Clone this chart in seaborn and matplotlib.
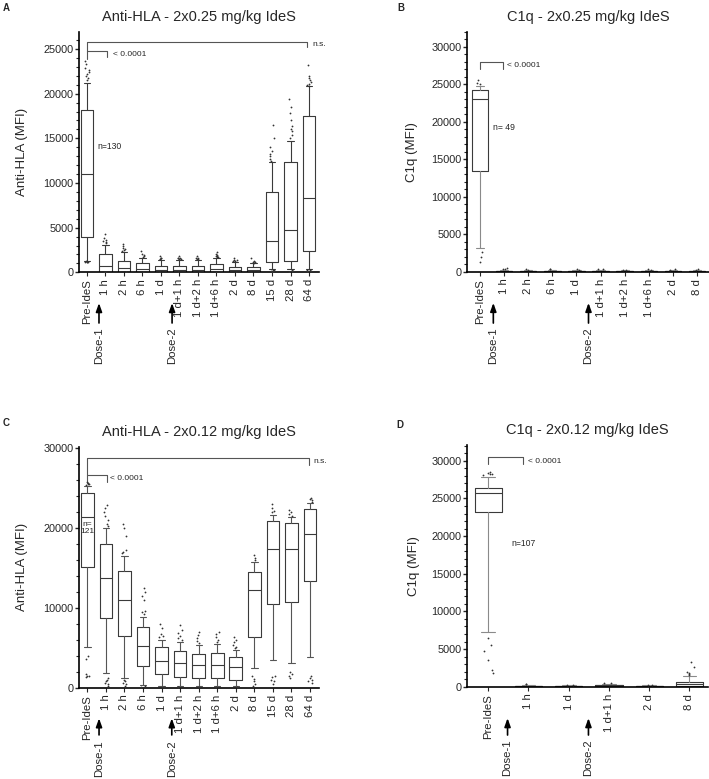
import numpy as np
import pandas as pd
import matplotlib
matplotlib.use("Agg")
import matplotlib.pyplot as plt
import matplotlib.transforms as mtransforms
from matplotlib.ticker import MultipleLocator
import seaborn as sns

# ---------------- data ----------------
cats_A = ["Pre-IdeS", "1 h", "2 h", "6 h", "1 d", "1 d+1 h", "1 d+2 h", "1 d+6 h",
          "2 d", "8 d", "15 d", "28 d", "64 d"]
q1_A = [4000, 80, 60, 50, 40, 40, 40, 50, 40, 40, 1100, 1250, 2400]
med_A = [11000, 650, 450, 330, 260, 300, 300, 330, 250, 230, 3450, 4750, 8300]
q3_A = [18200, 2000, 1300, 1000, 700, 700, 700, 950, 560, 560, 8950, 12300, 17550]
lo_A = [1300, 0, 0, 0, 0, 0, 0, 0, 0, 0, 400, 400, 400]
hi_A = [21150, 3050, 2300, 1560, 1380, 1380, 1380, 1600, 1200, 1000, 12300, 14700, 20800]
fliers_A = [
    [21500, 21800, 22000, 22200, 22400, 22600, 22900, 23300, 23700, 1100, 1150, 1200, 1200, 1250],
    [3300, 3400, 3500, 3600, 3800, 4300, 20, 40, 60],
    [2400, 2500, 2600, 2700, 2900, 3200, 20, 40],
    [1700, 1800, 1900, 2000, 2400, 20, 40],
    [1450, 1500, 1550, 1600, 1800, 20],
    [1450, 1500, 1550, 1600, 1650, 1850, 20],
    [1450, 1500, 1550, 1600, 1850, 20],
    [1700, 1750, 1800, 1850, 1900, 2000, 2300, 20],
    [1250, 1300, 1350, 1400, 1600, 20],
    [1050, 1100, 1150, 1250, 1600, 20],
    [12500, 12700, 13000, 13200, 13600, 14000, 15000, 16500, 50, 100, 150, 200, 250, 300],
    [15000, 15400, 15800, 16000, 16400, 17000, 17800, 18500, 19400, 50, 100, 150, 200, 250],
    [20900, 21000, 21100, 21300, 21500, 21700, 22000, 23200, 100, 150, 200, 250, 300],
]

cats_B = ["Pre-IdeS", "1 h", "2 h", "6 h", "1 d", "1 d+1 h", "1 d+2 h", "1 d+6 h", "2 d", "8 d"]
q1_B = [13400, 40, 30, 40, 30, 40, 30, 30, 40, 30]
med_B = [23000, 80, 60, 80, 60, 80, 60, 60, 80, 60]
q3_B = [24200, 150, 110, 150, 110, 140, 100, 110, 140, 120]
lo_B = [3100, 0, 0, 0, 0, 0, 0, 0, 0, 0]
hi_B = [24800, 250, 200, 250, 200, 230, 180, 200, 230, 220]
fliers_B = [
    [25000, 25200, 25500, 2600, 2000, 1300],
    [300, 350, 450], [280, 320], [300, 400], [260, 330], [300, 350],
    [240, 280], [260, 300], [280, 320], [260, 300],
]

cats_C = cats_A
q1_C = [15130, 8670, 6500, 2710, 1670, 1290, 1210, 1210, 960, 6380, 10420, 10670, 13340]
med_C = [21300, 13670, 10960, 5250, 3380, 3040, 2790, 2790, 2580, 12210, 17300, 17340, 19170]
q3_C = [24300, 17920, 14630, 7550, 5130, 4540, 4210, 4290, 3830, 14500, 20840, 20550, 22380]
lo_C = [5130, 1880, 1250, 300, 150, 150, 150, 150, 150, 2420, 3460, 3040, 3790]
hi_C = [25200, 19920, 16500, 8880, 5960, 5750, 5330, 5460, 4710, 15750, 21590, 21300, 23050]
fliers_C = [
    [25300, 25400, 25500, 25600, 25700, 4000, 3600, 1700, 1500, 1400, 1300],
    [20200, 20500, 21000, 21500, 22000, 22500, 22800, 1200, 1000, 800, 600, 400, 200],
    [16800, 17000, 17200, 19000, 20000, 20500, 1000, 800, 600, 400, 200],
    [9200, 9400, 9600, 11000, 11500, 12000, 12400, 200, 100],
    [6300, 6500, 6700, 7500, 8000, 60, 100],
    [6000, 6200, 6400, 6800, 7200, 7800, 60, 100],
    [5600, 5800, 6200, 6600, 6900, 60, 100],
    [5700, 5900, 6300, 6700, 7000, 60, 100],
    [4900, 5100, 5300, 5700, 6000, 6300, 60, 100],
    [16000, 16200, 16600, 1400, 1100, 800, 500, 200],
    [21900, 22100, 22400, 22900, 1500, 1300, 1000, 800, 500],
    [21500, 21700, 21900, 22200, 2000, 1700, 1400, 1200],
    [23200, 23400, 23600, 23700, 1500, 1200, 1000, 800, 600],
]

cats_D = ["Pre-IdeS", "1 h", "1 d", "1 d+1 h", "2 d", "8 d"]
q1_D = [23190, 40, 30, 60, 30, 100]
med_D = [25670, 90, 60, 160, 60, 320]
q3_D = [26330, 150, 100, 260, 100, 580]
lo_D = [7310, 0, 0, 0, 0, 0]
hi_D = [27850, 250, 180, 380, 170, 1420]
fliers_D = [
    [28100, 28200, 28300, 28400, 28500, 6500, 5500, 4700, 3500, 2200, 1800],
    [300, 340], [240, 280], [450, 500], [230, 260],
    [1600, 1700, 1800, 1900, 2600, 3300],
]

# ---------------- style ----------------
sns.set_style("ticks")
plt.rcParams["font.family"] = ["Liberation Sans", "DejaVu Sans"]
np.random.seed(3)  # jitter of the outlier dots only

W, H = 709, 779
fig = plt.figure(figsize=(W / 100, H / 100), dpi=100)


def px_axes(left, top, right, bottom):
    return fig.add_axes([left / W, 1 - bottom / H, (right - left) / W, (bottom - top) / H])


def draw_panel(ax, cats, q1, med, q3, lo, hi, fliers, ylim, xlim, major, minor,
               ylabel, title, wcolor):
    rows = [(c, v) for c, fl in zip(cats, fliers) for v in fl]
    df = pd.DataFrame(rows, columns=["time", "mfi"])
    sns.stripplot(data=df, x="time", y="mfi", order=cats, color="#333333", size=1.3,
                  jitter=0.13, linewidth=0, ax=ax, zorder=3)
    stats = [dict(med=m, q1=a, q3=b, whislo=l, whishi=h, fliers=[])
             for a, m, b, l, h in zip(q1, med, q3, lo, hi)]
    ax.bxp(stats, positions=range(len(cats)), widths=0.68, showfliers=False,
           manage_ticks=False,
           boxprops=dict(color="#3a3a3a", lw=0.8),
           medianprops=dict(color="#3a3a3a", lw=0.8),
           whiskerprops=dict(color=wcolor, lw=0.8),
           capprops=dict(color=wcolor, lw=0.8))
    ax.set_xlim(*xlim)
    ax.set_ylim(*ylim)
    ax.set_xticks(range(len(cats)))
    ax.set_xticklabels(cats, rotation=90, fontsize=8.2)
    ax.yaxis.set_major_locator(MultipleLocator(major))
    ax.yaxis.set_minor_locator(MultipleLocator(minor))
    ax.tick_params(axis="y", labelsize=7.8, length=3, width=1, pad=1)
    ax.tick_params(axis="y", which="minor", length=2, width=0.8)
    ax.tick_params(axis="x", length=3, width=0.8, pad=2)
    ax.set_xlabel("")
    ax.set_ylabel(ylabel, fontsize=9.5)
    ax.set_title(title, fontsize=10.5, pad=8)
    sns.despine(ax=ax)
    for s in ("left", "bottom"):
        ax.spines[s].set_linewidth(1.2)
        ax.spines[s].set_color("k")


def bracket(ax, x0, x1, y, yl, yr, lw=0.8):
    ax.plot([x0, x0, x1, x1], [yl, y, y, yr], color="#555555", lw=lw, clip_on=False)


def dose(ax, x, head, tail, text_top, label):
    tr = mtransforms.blended_transform_factory(ax.transData, ax.transAxes)
    ax.annotate("", xy=(x, head), xytext=(x, tail), xycoords=tr, textcoords=tr,
                arrowprops=dict(arrowstyle="-|>,head_length=0.5,head_width=0.18",
                                color="k", lw=1.2, shrinkA=0, shrinkB=0),
                annotation_clip=False)
    ax.text(x, text_top, label, rotation=90, ha="center", va="top",
            transform=tr, fontsize=8.2)


# ---------------- panel A ----------------
axA = px_axes(79, 32, 319, 272.3)
draw_panel(axA, cats_A, q1_A, med_A, q3_A, lo_A, hi_A, fliers_A, (0, 26900),
           (-0.43, 12.54), 5000, 1000, "Anti-HLA (MFI)",
           "Anti-HLA - 2x0.25 mg/kg IdeS", "#3a3a3a")
bracket(axA, 0, 11.9, 25800, 24800, 25250)
bracket(axA, 0, 1.1, 24800, 23900, 24070)
axA.text(12.2, 25500, "n.s.", fontsize=6, va="center")
axA.text(1.4, 24400, "< 0.0001", fontsize=6, va="center")
axA.text(0.55, 14100, "n=130", fontsize=6.2, va="center")
dose(axA, 0.65, -0.128, -0.211, -0.228, "Dose-1")
dose(axA, 4.6, -0.128, -0.211, -0.228, "Dose-2")

# ---------------- panel B ----------------
axB = px_axes(467.3, 31.7, 709, 271.7)
draw_panel(axB, cats_B, q1_B, med_B, q3_B, lo_B, hi_B, fliers_B, (0, 32000),
           (-0.53, 9.5), 5000, 1000, "C1q (MFI)",
           "C1q - 2x0.25 mg/kg IdeS", "#8a8a8a")
bracket(axB, 0, 0.97, 27900, 27000, 27000)
axB.text(1.1, 27500, "< 0.0001", fontsize=6, va="center")
axB.text(0.54, 19200, "n= 49", fontsize=6.2, va="center")
dose(axB, 0.55, -0.13, -0.214, -0.23, "Dose-1")
dose(axB, 4.5, -0.13, -0.214, -0.23, "Dose-2")

# ---------------- panel C ----------------
axC = px_axes(79, 446.7, 319.3, 687.7)
draw_panel(axC, cats_C, q1_C, med_C, q3_C, lo_C, hi_C, fliers_C, (0, 30100),
           (-0.45, 12.5), 10000, 2000, "Anti-HLA (MFI)",
           "Anti-HLA - 2x0.12 mg/kg IdeS", "#555555")
bracket(axC, 0, 11.93, 28700, 26600, 27800)
bracket(axC, 0, 1.05, 26600, 25600, 25750)
axC.text(12.16, 28200, "n.s.", fontsize=6, va="center")
axC.text(1.22, 26100, "< 0.0001", fontsize=6, va="center")
axC.text(0, 19950, "n=\n121", fontsize=6, ha="center", va="center", linespacing=1.0)
dose(axC, 0.63, -0.127, -0.196, -0.217, "Dose-1")
dose(axC, 4.55, -0.127, -0.196, -0.217, "Dose-2")

# ---------------- panel D ----------------
axD = px_axes(467.3, 445, 708, 686.7)
draw_panel(axD, cats_D, q1_D, med_D, q3_D, lo_D, hi_D, fliers_D, (0, 32100),
           (-0.52, 5.46), 5000, 1000, "C1q (MFI)",
           "C1q - 2x0.12 mg/kg IdeS", "#8a8a8a")
bracket(axD, 0, 0.86, 30500, 29600, 29600)
axD.text(1.0, 29900, "< 0.0001", fontsize=6, va="center")
axD.text(0.58, 19060, "n=107", fontsize=6.2, va="center")
dose(axD, 0.48, -0.13, -0.2, -0.216, "Dose-1")
dose(axD, 2.49, -0.13, -0.2, -0.216, "Dose-2")

# label positions for y axes
for ax, xl in ((axA, -0.2125), (axB, -0.204), (axC, -0.212), (axD, -0.196)):
    ax.yaxis.set_label_coords(xl, 0.5)

# panel letters
for lab, x, y in (("A", 3, 3), ("B", 397, 3), ("C", 3, 418), ("D", 396, 420)):
    fig.text(x / W, 1 - y / H, lab, fontsize=7, fontweight="bold", ha="left", va="top")

fig.savefig("out.png", dpi=100)
